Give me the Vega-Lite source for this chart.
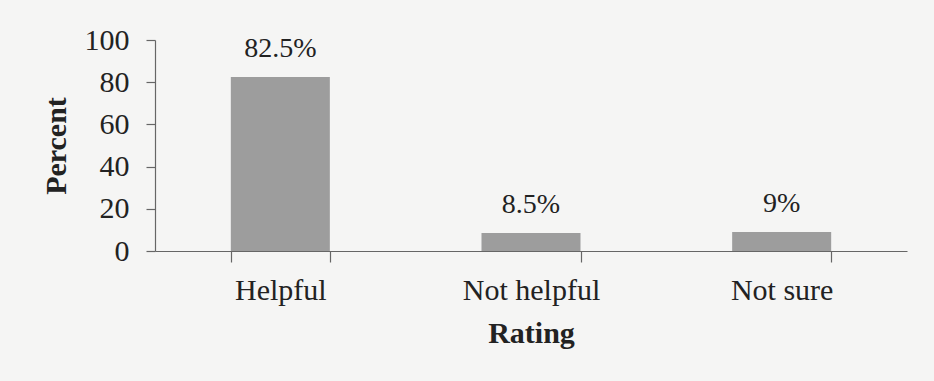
{
  "$schema": "https://vega.github.io/schema/vega-lite/v6.json",
  "autosize": "none",
  "width": 752,
  "height": 211,
  "padding": {"left": 155, "top": 40, "right": 27, "bottom": 130},
  "background": "#f5f5f4",
  "data": {"values": [
    {"Rating": "Helpful", "Percent": 82.5, "Label": "82.5%"},
    {"Rating": "Not helpful", "Percent": 8.5, "Label": "8.5%"},
    {"Rating": "Not sure", "Percent": 9, "Label": "9%"}
  ]},
  "encoding": {
    "x": {"field": "Rating", "type": "nominal", "sort": null,
      "scale": {"paddingInner": 0.605, "paddingOuter": 0.3025},
      "axis": {"labelAngle": 0, "tickBand": "extent", "title": "Rating", "titlePadding": 13}},
    "y": {"field": "Percent", "type": "quantitative",
      "scale": {"domain": [0, 100], "nice": false},
      "axis": {"values": [0, 20, 40, 60, 80, 100], "title": "Percent", "titlePadding": 13, "grid": false}}
  },
  "layer": [
    {"mark": {"type": "bar", "color": "#9d9d9d"}},
    {"mark": {"type": "text", "baseline": "alphabetic", "dy": -20, "font": "Liberation Serif", "fontSize": 28, "color": "#222222"},
     "encoding": {"text": {"field": "Label"}}}
  ],
  "config": {
    "view": {"stroke": null},
    "axis": {
      "domainColor": "#666666", "tickColor": "#666666", "domainWidth": 1.2, "tickWidth": 1.2,
      "labelFont": "Liberation Serif", "labelFontSize": 30, "labelColor": "#222222",
      "titleFont": "Liberation Serif", "titleFontSize": 30, "titleFontWeight": "bold", "titleColor": "#222222"
    },
    "axisX": {"tickSize": 11, "labelPadding": 13},
    "axisY": {"tickSize": 9, "labelPadding": 17}
  }
}
